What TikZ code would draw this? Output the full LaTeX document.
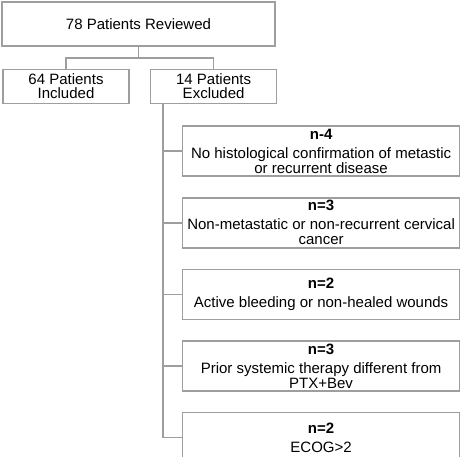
\documentclass[tikz,border=0pt]{standalone}
\usepackage{fontspec}
\setmainfont{Liberation Sans}
\usetikzlibrary{positioning,calc}
\definecolor{boxgray}{RGB}{158,158,158}
\tikzset{
  topblk/.style={draw=boxgray, line width=1.6pt, rectangle, minimum width=273pt, minimum height=44pt, inner sep=0pt, align=center, font=\fontsize{15}{14}\selectfont},
  midblk/.style={topblk, minimum width=126pt, minimum height=34pt},
  exblk/.style={topblk, minimum width=277pt, minimum height=50pt, font=\fontsize{15}{15}\selectfont},
  conn/.style={draw=boxgray, line width=1.6pt},
}

\begin{document}
\begin{tikzpicture}
\useasboundingbox (0,0) rectangle (461pt,-456pt);

\node[topblk] (reviewed) at (138.5pt,-24pt) {78 Patients Reviewed};
\node[midblk, below=22pt of reviewed, xshift=-72.5pt] (incl) {64 Patients\\Included};
\node[midblk, right=20pt of incl] (excl) {14 Patients\\Excluded};

\node[exblk, below=21pt of excl, xshift=107.5pt] (nohist)
  {\bfseries n-4\\[4pt]No histological confirmation of metastic\\or recurrent disease};
\node[exblk, below=20pt of nohist] (nonmet)
  {\bfseries n=3\\[4pt]Non-metastatic or non-recurrent cervical\\cancer};
\node[exblk, below=20pt of nonmet] (bleed)
  {\bfseries n=2\\[4pt]Active bleeding or non-healed wounds};
\node[exblk, below=20pt of bleed] (prior)
  {\bfseries n=3\\[4pt]Prior systemic therapy different from\\PTX+Bev};
\node[exblk, below=20pt of prior] (ecog)
  {\bfseries n=2\\[4pt]ECOG>2};

\coordinate (split) at ($(reviewed.south)+(0,-11pt)$);
\draw[conn] (reviewed.south) -- (split);
\draw[conn] (incl.north) |- (split) -| (excl.north);

\coordinate (trunk) at ($(excl.south west)+(13pt,0)$);
\foreach \r in {nohist,nonmet,bleed,prior,ecog}
  \draw[conn] (trunk) |- (\r.west);

\end{tikzpicture}
\end{document}
